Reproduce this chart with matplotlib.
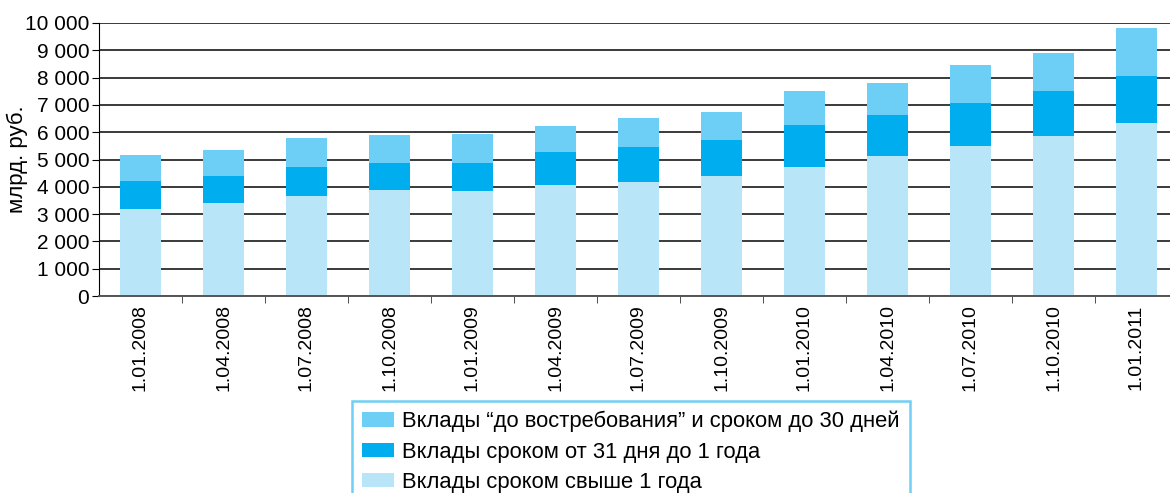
import matplotlib
matplotlib.use('Agg')
import matplotlib.pyplot as plt
from matplotlib.ticker import FuncFormatter, FixedLocator
import numpy as np

plt.rcParams['font.family'] = ['Liberation Sans', 'DejaVu Sans']

# Data (млрд. руб.)
dates = ['1.01.2008', '1.04.2008', '1.07.2008', '1.10.2008', '1.01.2009', '1.04.2009',
         '1.07.2009', '1.10.2009', '1.01.2010', '1.04.2010', '1.07.2010', '1.10.2010',
         '1.01.2011']
over_1y = [3200, 3400, 3680, 3900, 3830, 4050, 4190, 4380, 4740, 5110, 5480, 5850, 6320]
d31_to_1y = [1000, 990, 1040, 960, 1060, 1210, 1250, 1320, 1510, 1510, 1580, 1650, 1730]
demand_30d = [980, 950, 1070, 1030, 1040, 960, 1070, 1030, 1250, 1170, 1400, 1400, 1770]

labels = ['Вклады “до востребования” и сроком до 30 дней',
          'Вклады сроком от 31 дня до 1 года',
          'Вклады сроком свыше 1 года']
colors = ['#6dcff6', '#00aeef', '#b9e5f8']

fig = plt.figure(figsize=(11.7, 4.93), dpi=100)
ax = fig.add_axes([99 / 1170, 1 - 296 / 493, 1079 / 1170, 273 / 493])

x = np.arange(len(dates))
w = 0.5
b1 = ax.bar(x, over_1y, w, color=colors[2], zorder=2)
b2 = ax.bar(x, d31_to_1y, w, bottom=over_1y, color=colors[1], zorder=2)
bottom3 = np.array(over_1y) + np.array(d31_to_1y)
b3 = ax.bar(x, demand_30d, w, bottom=bottom3, color=colors[0], zorder=2)

ax.set_xlim(-0.5, len(dates) - 0.5)
ax.set_ylim(0, 10000)
ax.set_yticks(np.arange(0, 10001, 1000))
ax.yaxis.set_major_formatter(FuncFormatter(lambda v, p: f'{int(v):,}'.replace(',', ' ')))
ax.yaxis.grid(True, color='#3a3a3a', linewidth=1.4, zorder=0)
ax.set_axisbelow(True)

ax.set_xticks(x)
ax.set_xticklabels(dates, rotation=90, fontsize=14)
ax.xaxis.set_minor_locator(FixedLocator(np.arange(0.5, len(dates) - 1, 1.0)))
ax.tick_params(axis='x', which='major', length=0, pad=6)
ax.tick_params(axis='x', which='minor', length=5, direction='out', color='#333333')
ax.tick_params(axis='y', length=5, direction='out', labelsize=15, pad=2)

for s in ['top', 'right']:
    ax.spines[s].set_visible(False)
ax.spines['left'].set_color('black')
ax.spines['bottom'].set_color('#555555')
ax.spines['bottom'].set_linewidth(1.4)

ax.set_ylabel('млрд. руб.', fontsize=16)
ax.yaxis.set_label_coords(-0.066, 0.5)

leg = fig.legend([b3, b2, b1], labels, loc='upper left',
                 bbox_to_anchor=(352 / 1170, 1 - 401 / 493),
                 fontsize=15.8, frameon=True, fancybox=False,
                 handlelength=1.45, handleheight=0.65, handletextpad=0.4,
                 labelspacing=0.42, borderpad=0.45, borderaxespad=0)
leg.get_frame().set_edgecolor('#4cc3f2')
leg.get_frame().set_linewidth(1.8)

fig.savefig('out.png', dpi=100)
